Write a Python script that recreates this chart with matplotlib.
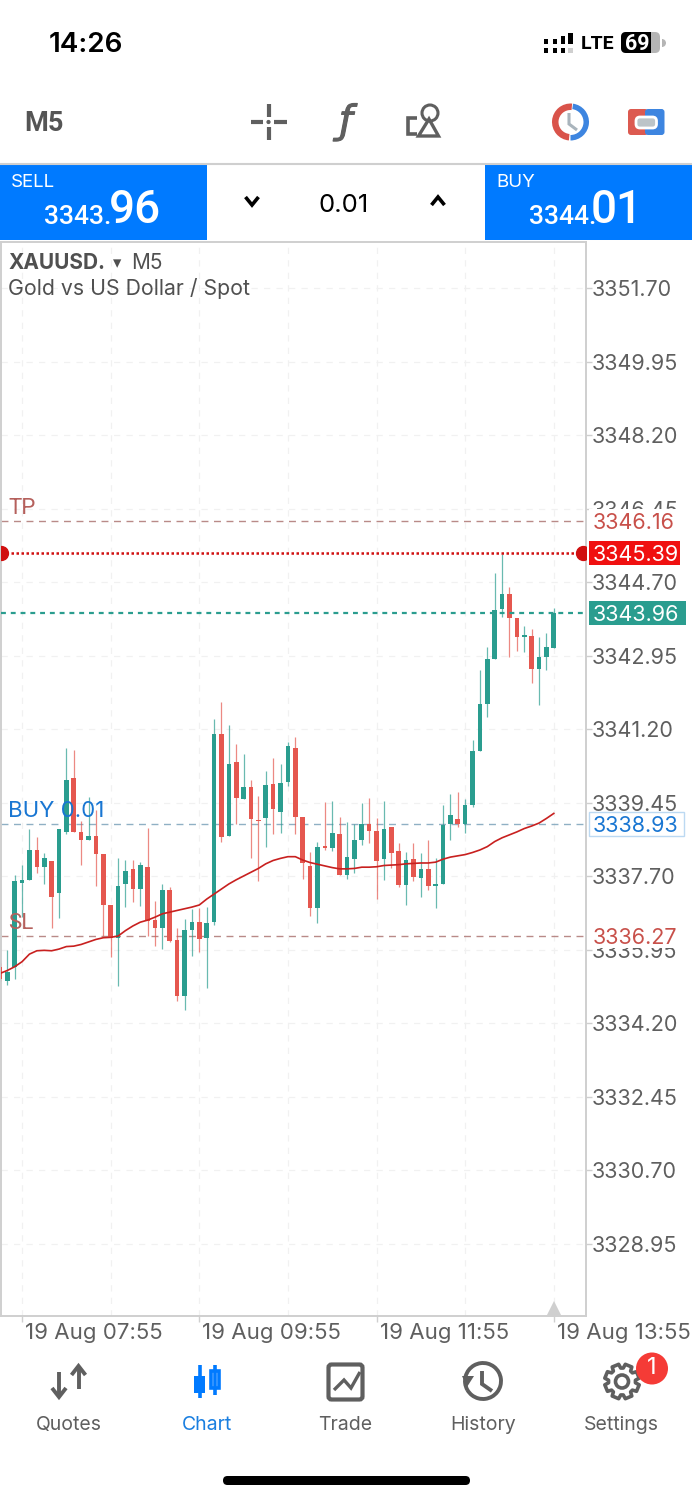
import numpy as np
import matplotlib
matplotlib.use("Agg")
import matplotlib.pyplot as plt
from matplotlib.patches import Rectangle, FancyBboxPatch, Circle, Wedge, Polygon, Arc
from matplotlib.transforms import ScaledTranslation

# ---------- data (price values) ----------
candle_index = list(range(-1, 75))
highs = [3335.62,3335.94,3337.73,3337.96,3338.81,3338.64,3338.24,3338.06,3338.81,3340.74,3340.69,3339.00,3339.59,3339.27,3338.23,3337.00,
         3338.12,3338.08,3338.08,3338.04,3338.84,3337.10,3337.50,3337.45,3336.46,3336.67,3336.91,3336.95,3336.97,3341.43,3341.85,3341.30,
         3340.84,3340.60,3339.99,3339.61,3340.20,3340.50,3340.37,3340.90,3341.02,3339.11,3338.26,3338.52,3339.47,3339.49,3339.11,3338.99,
         3338.93,3339.43,3339.55,3339.07,3339.49,3338.86,3338.49,3338.26,3338.48,3338.24,3338.56,3338.14,3339.39,3339.65,3339.69,3339.53,
         3340.94,3342.60,3343.16,3344.92,3345.37,3344.57,3343.85,3343.65,3343.57,3343.38,3343.48,3344.07]
body_tops = [3335.54,3335.42,3337.59,3337.61,3338.31,3338.31,3338.12,3338.06,3338.81,3339.99,3340.03,3338.75,3338.65,3338.65,3338.23,3337.00,
         3337.47,3337.81,3337.86,3337.97,3337.92,3336.65,3337.37,3337.37,3336.18,3336.42,3336.60,3336.61,3336.58,3341.08,3341.08,3340.37,
         3340.42,3339.82,3339.82,3339.04,3339.87,3339.89,3339.92,3340.80,3340.75,3339.10,3337.94,3338.39,3338.42,3338.72,3338.70,3338.16,
         3338.56,3338.93,3338.93,3338.78,3338.82,3338.86,3338.29,3338.08,3338.10,3337.86,3337.86,3337.51,3338.91,3339.15,3339.05,3339.38,
         3340.68,3341.80,3342.87,3344.03,3344.41,3344.41,3343.85,3343.43,3343.42,3342.91,3343.16,3343.96]
body_bottoms = [3335.24,3335.21,3335.54,3337.54,3337.61,3337.91,3337.92,3337.21,3337.30,3338.75,3338.75,3338.55,3338.55,3338.23,3337.00,3336.22,
         3336.22,3337.50,3337.39,3337.38,3336.64,3336.46,3336.46,3336.15,3334.85,3334.85,3336.42,3336.20,3336.23,3336.61,3338.64,3338.65,
         3339.55,3339.54,3339.05,3339.00,3339.07,3339.30,3339.23,3339.93,3339.11,3338.02,3336.95,3336.95,3338.37,3338.37,3337.73,3337.73,
         3338.10,3338.56,3338.78,3338.06,3338.10,3338.24,3337.49,3337.49,3337.67,3337.65,3337.47,3337.46,3337.51,3338.94,3338.93,3338.93,
         3339.38,3340.68,3341.80,3342.87,3344.05,3343.85,3343.40,3343.40,3342.64,3342.64,3342.92,3343.14]
lows = [3335.19,3335.11,3335.24,3336.73,3337.61,3337.78,3337.51,3336.46,3336.69,3338.70,3338.75,3337.96,3338.55,3337.47,3336.26,3335.78,
         3335.08,3336.97,3337.07,3336.99,3336.26,3336.03,3335.96,3336.14,3334.73,3334.51,3335.80,3335.90,3335.04,3336.53,3338.52,3338.65,
         3338.93,3339.53,3338.14,3337.57,3338.38,3338.70,3338.72,3339.85,3338.70,3337.62,3336.75,3336.57,3338.32,3338.30,3337.72,3337.64,
         3337.76,3338.44,3338.48,3337.15,3337.60,3337.88,3337.45,3337.01,3337.57,3337.21,3337.37,3336.95,3337.51,3338.56,3338.87,3338.73,
         3339.35,3340.68,3341.49,3342.87,3343.87,3342.92,3343.06,3343.04,3342.29,3341.77,3342.60,3343.14]
is_up = [0,1,1,1,1,0,1,0,1,1,0,0,1,0,0,0,
         1,1,0,1,0,0,1,0,0,1,1,0,1,1,0,1,
         0,1,0,0,1,0,1,1,0,0,0,1,0,1,0,1,
         1,1,0,0,1,0,0,1,0,1,0,1,1,1,0,1,
         1,1,1,1,1,0,0,1,0,1,1,1]
moving_average = [3335.38,3335.45,3335.54,3335.66,3335.84,3335.92,3335.93,3335.92,3335.96,3336.02,3336.03,3336.07,3336.13,3336.19,3336.23,3336.24,
         3336.27,3336.40,3336.51,3336.60,3336.65,3336.72,3336.80,3336.84,3336.88,3336.92,3336.96,3337.01,3337.15,3337.27,3337.39,3337.51,
         3337.61,3337.70,3337.79,3337.88,3337.99,3338.07,3338.12,3338.16,3338.16,3338.08,3338.02,3337.98,3337.94,3337.90,3337.87,3337.87,
         3337.88,3337.91,3337.91,3337.92,3337.95,3337.96,3337.97,3337.99,3338.00,3338.01,3338.01,3338.03,3338.10,3338.15,3338.18,3338.21,
         3338.26,3338.32,3338.40,3338.52,3338.61,3338.68,3338.75,3338.83,3338.89,3338.96,3339.07,3339.19]
price_ticks = [3351.70,3349.95,3348.20,3346.45,3344.70,3342.95,3341.20,3339.45,3337.70,3335.95,3334.20,3332.45,3330.70,3328.95]
time_tick_index = [2, 26, 50, 74]
time_tick_labels = ["19 Aug 07:55", "19 Aug 09:55", "19 Aug 11:55", "19 Aug 13:55"]
minor_grid_index = [14, 38, 62]
tp_price, sl_price, buy_price = 3346.16, 3336.27, 3338.93
alert_price, bid_price = 3345.39, 3343.96

# ---------- styles ----------
W, H = 692, 1500
GREEN, RED = "#2a9d8f", "#e5574f"
GREY = "#5f5f5f"
BLUE = "#007aff"
UI = ["Inter", "Roboto", "DejaVu Sans"]
ROBOTO = ["Roboto", "DejaVu Sans"]
plt.rcParams["font.family"] = UI

fig = plt.figure(figsize=(W/100, H/100), dpi=100, facecolor="white")
ui = fig.add_axes([0, 0, 1, 1], zorder=1)
ui.set_xlim(0, W); ui.set_ylim(H, 0); ui.axis("off")

def T(x, y, s, size, color=GREY, ha="left", va="center", weight="normal", family=None, **k):
    return ui.text(x, y, s, fontsize=size, color=color, ha=ha, va=va, weight=weight,
                   family=family or UI, **k)

def L(xs, ys, c=GREY, lw=2.5, cap="butt", **k):
    ui.plot(xs, ys, color=c, lw=lw, solid_capstyle=cap, solid_joinstyle="miter", **k)

def RR(x0, y0, x1, y1, r, **k):
    ui.add_patch(FancyBboxPatch((x0+r, y0+r), x1-x0-2*r, y1-y0-2*r,
                                boxstyle=f"round,pad={r},rounding_size={r}", **k))

# ---------- status bar ----------
T(85.5, 44.5, "14:26", 20, "#000000", ha="center", weight="semibold")
for x, tops, gray in [(546, [39, 48], False), (555, [39, 48], False), (563, [36, 48], False), (570.5, [33, 48], True)]:
    ui.add_patch(Rectangle((x-2.3, tops[0]), 4.6, 44-tops[0], color="#000000", lw=0))
    ui.add_patch(Rectangle((x-2.3, 48), 4.6, 5, color="#cfcfcf" if gray else "#000000", lw=0))
T(597.5, 44, "LTE", 14, "#000000", ha="center", family=ROBOTO, weight="bold")
RR(621, 32, 660, 53, 5, fc="#b5b5b5", ec="none")
RR(621, 32, 651, 53, 5, fc="#000000", ec="none")
ui.add_patch(Rectangle((645, 32), 6, 21, color="#000000", lw=0))
T(637, 43.5, "69", 15.5, "#ffffff", ha="center", weight="bold", family=ROBOTO)
ui.add_patch(Wedge((662, 43), 4, -90, 90, fc="#b5b5b5", ec="none"))

# ---------- toolbar ----------
T(44, 123.5, "M5", 19.5, "#555555", ha="center", family=ROBOTO, weight="bold")
L([251, 263], [122, 122], lw=3); L([274, 287], [122, 122], lw=3)
L([268.5, 268.5], [104, 117], lw=3); L([268.5, 268.5], [127, 140], lw=3)
ui.add_patch(Circle((268.5, 122), 1.4, color=GREY))
T(346, 122, "ƒ", 28, GREY, ha="center", style="italic", family=["DejaVu Sans"],
  path_effects=[__import__("matplotlib.patheffects", fromlist=["withStroke"]).withStroke(linewidth=0.8, foreground=GREY)])
ui.add_patch(Circle((430, 113), 8, fc="none", ec=GREY, lw=2.2))
ui.add_patch(Polygon([(429, 119), (418.5, 136), (438.5, 136)], closed=True, fc="none", ec=GREY, lw=2.4))
L([417, 407.5, 407.5, 417], [118, 118, 134, 134], lw=2.6)
# clock icon
ui.add_patch(Wedge((570.5, 122), 18.5, 95, 275, width=6.5, fc="#d9534a", ec="none"))
ui.add_patch(Wedge((570.5, 122), 18.5, -82, 90, width=5.5, fc="#3d85e0", ec="none"))
L([569, 569, 577], [113, 124, 130], c="#a9b4bc", lw=2.2)
# account icon
RR(628, 109, 648, 135, 3, fc="#dc5a50", ec="none")
RR(645, 109, 664.5, 135, 3, fc="#3d85e0", ec="none")
RR(636, 117, 656.5, 128, 4, fc="#bcc4c8", ec="#ffffff", lw=2)

# ---------- trade strip ----------
L([0, W], [163.5, 163.5], c="#cfcfcf", lw=1.5)
ui.add_patch(Rectangle((0, 164), 207, 76, color=BLUE, lw=0))
ui.add_patch(Rectangle((485, 164), 207, 76, color=BLUE, lw=0))
T(11, 182.5, "SELL", 13.5, "#ffffff")
T(111, 217, "3343.", 19, "#ffffff", ha="right", family=ROBOTO, weight="medium")
T(161, 210, "96", 33, "#ffffff", ha="right", family=ROBOTO, weight="medium")
T(496, 182.5, "BUY", 13.5, "#ffffff")
T(596, 217, "3344.", 19, "#ffffff", ha="right", family=ROBOTO, weight="medium")
T(643, 210, "01", 33, "#ffffff", ha="right", family=ROBOTO, weight="medium")
T(343.5, 205, "0.01", 18.5, "#000000", ha="center")
L([245.5, 252, 258.5], [197, 205, 197], c="#000000", lw=2.6)
L([431.5, 438, 444.5], [205, 197, 205], c="#000000", lw=2.6)

# ---------- chart ----------
X0, X1, Y0, Y1 = 0.5, 586, 242, 1316
ax = fig.add_axes([X0/W, 1-Y1/H, (X1-X0)/W, (Y1-Y0)/H], zorder=2)
step, x_off = 7.385, 7.3
ax.set_xlim((X0-x_off)/step, (X1-x_off)/step)
ax.set_ylim(3351.70-(Y1-288)/42, 3351.70+(288-Y0)/42)
for s in ax.spines.values():
    s.set_color("#cfcfcf"); s.set_linewidth(1.4)

ax.yaxis.tick_right()
ax.set_yticks(price_ticks, [f"{p:.2f}" for p in price_ticks])
ax.tick_params(axis="y", length=4, width=1, color="#cfcfcf", pad=0, labelsize=15.5, labelcolor=GREY)
ax.set_xticks(time_tick_index, time_tick_labels, ha="left")
ax.set_xticks(minor_grid_index, minor=True)
ax.tick_params(axis="x", which="major", length=4, width=1, color="#cfcfcf", pad=1.2, labelsize=16, labelcolor=GREY)
ax.tick_params(axis="x", which="minor", length=0)
off = ScaledTranslation(3/100, 0, fig.dpi_scale_trans)
for t in ax.get_xticklabels():
    t.set_transform(t.get_transform() + off)
ax.grid(True, which="both", color="#f1f1f1", lw=0.9, ls=(0, (5, 5)), zorder=0)
ax.set_axisbelow(True)

up = np.array(is_up, bool)
idx = np.array(candle_index)
hi, lo, top, bot = map(np.array, (highs, lows, body_tops, body_bottoms))
colors = np.where(up, GREEN, RED)
ax.vlines(idx, lo, hi, colors=colors, lw=0.9, alpha=0.7, zorder=3)
ax.bar(idx, top-bot, bottom=bot, width=0.63, color=colors, lw=0, zorder=4)
ax.plot(idx, moving_average, color="#c8201f", lw=1.2, zorder=5)

TP_C, BUY_C = "#b5605c", "#1976d2"
dash = (0, (5, 4))
ax.axhline(tp_price, color="#b98a88", lw=1, ls=dash, zorder=2)
ax.axhline(sl_price, color="#b98a88", lw=1, ls=dash, zorder=2)
ax.axhline(buy_price, color="#8fb0c4", lw=1, ls=dash, zorder=2)
ax.axhline(alert_price, color="#d00f0f", lw=1.8, ls=(0, (1, 1)), zorder=6)
ax.axhline(bid_price, color=GREEN, lw=1.6, ls=(0, (2.2, 2.2)), zorder=6)
ytr = ax.get_yaxis_transform()
ax.plot([0.0, 0.995], [alert_price]*2, transform=ytr, ls="none", marker="o", ms=10, color="#d00f0f", clip_on=True, zorder=7)

ax.text(8/586, tp_price+0.30, "TP", fontsize=16, color=TP_C, va="center", transform=ytr, zorder=8, family=ROBOTO)
ax.text(8/586, sl_price+0.30, "SL", fontsize=16, color=TP_C, va="center", transform=ytr, zorder=8, family=ROBOTO)
ax.text(8/586, buy_price+0.31, "BUY 0.01", fontsize=16, color=BUY_C, va="center", transform=ytr, zorder=8)

lx = 593/586
def plabel(p, s, tc, fc, ec="none", box_w=97):
    ax.add_patch(Rectangle((589/586, p-12/42), box_w/586, 24/42, transform=ytr, clip_on=False,
                           fc=fc, ec=ec, lw=1, zorder=8.5))
    ax.text(lx, p, s, fontsize=15.5, color=tc, va="center_baseline", ha="left", transform=ytr,
            clip_on=False, zorder=9)
plabel(tp_price, f"{tp_price:.2f}", "#c8504a", "#ffffff", box_w=95)
plabel(sl_price, f"{sl_price:.2f}", "#c8504a", "#ffffff", box_w=95)
plabel(buy_price, f"{buy_price:.2f}", BUY_C, "#ffffff", ec="#bcd9f2", box_w=95)
plabel(alert_price, f"{alert_price:.2f}", "#ffffff", "#f01010", box_w=91)
plabel(bid_price, f"{bid_price:.2f}", "#ffffff", GREEN)

title_p = 3351.70+(288-263)/42
ax.text(8/586, title_p, "XAUUSD.", fontsize=15, weight="bold", color="#505050", va="center", transform=ytr, zorder=8)
ax.text(113/586, title_p, "▾", fontsize=12, color="#505050", va="center", transform=ytr, family=["DejaVu Sans"], zorder=8)
ax.text(131/586, title_p, "M5", fontsize=15, color="#505050", va="center", transform=ytr, zorder=8)
ax.text(8/586, 3351.70, "Gold vs US Dollar / Spot", fontsize=15.3, color="#505050", va="center", transform=ytr, zorder=8)
ax.plot([time_tick_index[-1]], [7/1074], ls="none", marker="^", ms=11.5, color="#cfcfcf", clip_on=False, zorder=8,
        markeredgewidth=0, transform=ax.get_xaxis_transform())

# ---------- bottom nav ----------
for x, s, c in [(69, "Quotes", GREY), (207, "Chart", "#1a7fe0"), (345.5, "Trade", GREY), (483.5, "History", GREY), (621.5, "Settings", GREY)]:
    T(x, 1425, s, 14, c, ha="center")
# quotes
L([59, 59], [1372, 1396], lw=2.8); L([52, 59, 66], [1388, 1397, 1388], lw=2.8)
L([78.5, 78.5], [1367, 1389], lw=2.8); L([71.5, 78.5, 85.5], [1375, 1366, 1375], lw=2.8)
# chart icon
L([200, 200], [1365, 1398], c=BLUE, lw=2.6); ui.add_patch(Rectangle((194, 1376), 11, 17, color=BLUE, lw=0))
L([215, 215], [1365, 1395], c=BLUE, lw=2.6)
ui.add_patch(Rectangle((211, 1371), 8, 17, fc="#ffffff", ec=BLUE, lw=2.6))
# trade icon
RR(328.5, 1364.5, 362.5, 1399.5, 3, fc="none", ec=GREY, lw=3)
L([334, 344, 351, 360], [1390, 1380, 1388, 1372], lw=2.4)
# history icon
ui.add_patch(Arc((483, 1381), 36, 36, theta1=-210, theta2=150, ec=GREY, lw=2.8))
ui.add_patch(Polygon([(462, 1376), (474, 1376), (467, 1387)], closed=True, fc=GREY, ec="none"))
L([482, 482, 492], [1371, 1384, 1391], lw=2.8)
# settings gear
ang = np.linspace(0, 2*np.pi, 8, endpoint=False)
pts = []
for a in ang:
    for da, r in [(-0.30, 13.5), (-0.20, 17.5), (0.20, 17.5), (0.30, 13.5)]:
        pts.append((622+r*np.cos(a+da+np.pi/8), 1381.5+r*np.sin(a+da+np.pi/8)))
ui.add_patch(Polygon(pts, closed=True, fc="none", ec=GREY, lw=2.6, joinstyle="round"))
ui.add_patch(Circle((622, 1381.5), 6.5, fc="none", ec=GREY, lw=2.6))
ui.add_patch(Circle((652, 1368.5), 16, fc="#f53b36", ec="none"))
T(652, 1368, "1", 17, "#ffffff", ha="center")
# home bar
RR(223, 1476, 470, 1485, 4.5, fc="#000000", ec="none")

fig.savefig("out.png", dpi=100)
